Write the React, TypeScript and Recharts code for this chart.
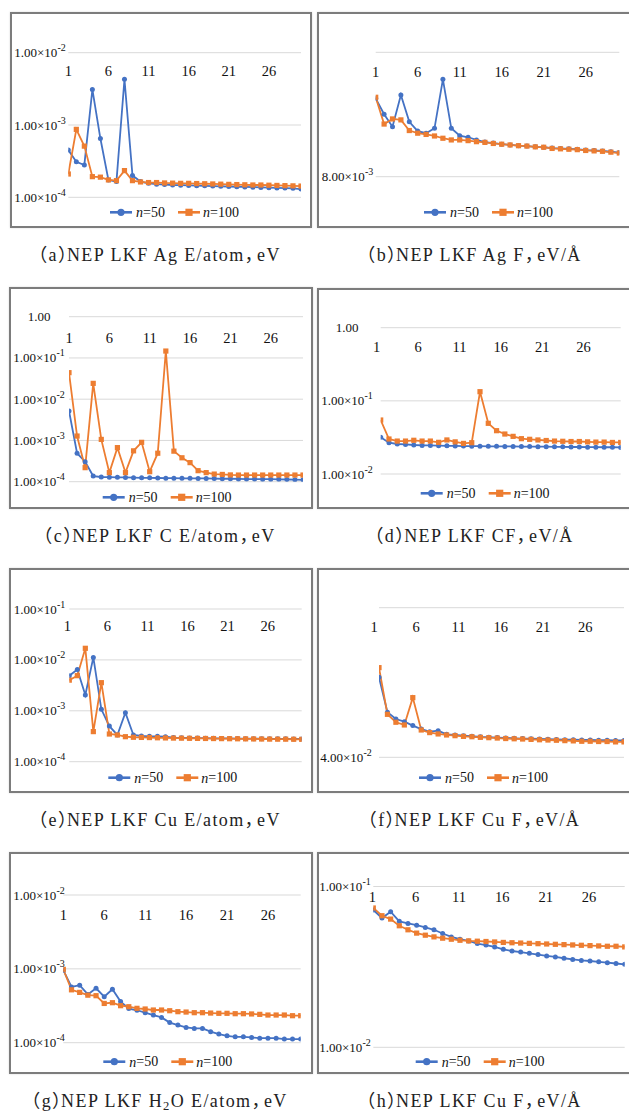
import React from 'react';
import { LineChart, Line, XAxis, YAxis, CartesianGrid } from 'recharts';

// ---------- data ----------
const steps = [1, 2, 3, 4, 5, 6, 7, 8, 9, 10, 11, 12, 13, 14, 15, 16, 17, 18, 19, 20, 21, 22, 23, 24, 25, 26, 27, 28, 29, 30];
const xTickValues = [1, 6, 11, 16, 21, 26];
const seriesLabels = ['50', '100'];

// (a) Ag E/atom
const agE50 = [4.5e-4, 3.1e-4, 2.8e-4, 3.1e-3, 6.5e-4, 1.74e-4, 1.65e-4, 4.3e-3, 2.0e-4, 1.65e-4, 1.56e-4, 1.52e-4, 1.5e-4, 1.48e-4, 1.47e-4, 1.46e-4, 1.45e-4, 1.44e-4, 1.43e-4, 1.42e-4, 1.41e-4, 1.4e-4, 1.39e-4, 1.38e-4, 1.37e-4, 1.36e-4, 1.35e-4, 1.34e-4, 1.33e-4, 1.3e-4];
const agE100 = [2.1e-4, 8.7e-4, 5.1e-4, 1.93e-4, 1.9e-4, 1.74e-4, 1.7e-4, 2.34e-4, 1.7e-4, 1.63e-4, 1.6e-4, 1.6e-4, 1.58e-4, 1.57e-4, 1.56e-4, 1.56e-4, 1.55e-4, 1.54e-4, 1.53e-4, 1.52e-4, 1.51e-4, 1.5e-4, 1.49e-4, 1.48e-4, 1.48e-4, 1.47e-4, 1.46e-4, 1.45e-4, 1.44e-4, 1.43e-4];
// (b) Ag F
const agF50 = [0.0341, 0.0254, 0.0202, 0.0363, 0.0221, 0.0186, 0.0179, 0.0196, 0.0485, 0.0196, 0.0171, 0.0166, 0.0158, 0.0152, 0.0149, 0.0146, 0.0144, 0.0142, 0.0141, 0.0139, 0.0138, 0.0136, 0.0135, 0.0134, 0.0133, 0.0131, 0.013, 0.0129, 0.0127, 0.0125];
const agF100 = [0.0348, 0.0212, 0.0233, 0.0229, 0.0188, 0.0179, 0.0175, 0.017, 0.0163, 0.0158, 0.0158, 0.0156, 0.0153, 0.0151, 0.0148, 0.0146, 0.0144, 0.0142, 0.0141, 0.0139, 0.0138, 0.0135, 0.0134, 0.0133, 0.0132, 0.013, 0.0129, 0.0128, 0.0126, 0.0124];
// (c) C E/atom
const cE50 = [5.2e-3, 4.9e-4, 3.05e-4, 1.37e-4, 1.3e-4, 1.29e-4, 1.28e-4, 1.27e-4, 1.25e-4, 1.24e-4, 1.24e-4, 1.23e-4, 1.22e-4, 1.22e-4, 1.21e-4, 1.21e-4, 1.2e-4, 1.2e-4, 1.19e-4, 1.18e-4, 1.18e-4, 1.17e-4, 1.16e-4, 1.16e-4, 1.15e-4, 1.15e-4, 1.14e-4, 1.13e-4, 1.12e-4, 1.11e-4];
const cE100 = [4.4e-2, 1.28e-3, 2.19e-4, 2.42e-2, 1.06e-3, 1.66e-4, 6.7e-4, 1.66e-4, 5.6e-4, 9.0e-4, 1.75e-4, 4.9e-4, 0.147, 5.5e-4, 3.8e-4, 2.9e-4, 1.85e-4, 1.66e-4, 1.53e-4, 1.5e-4, 1.46e-4, 1.45e-4, 1.45e-4, 1.45e-4, 1.45e-4, 1.45e-4, 1.45e-4, 1.45e-4, 1.45e-4, 1.45e-4];
// (d) C F
const cF50 = [0.0317, 0.0268, 0.0257, 0.0254, 0.0249, 0.0246, 0.0246, 0.0244, 0.0243, 0.0242, 0.0241, 0.024, 0.024, 0.0239, 0.0239, 0.0238, 0.0238, 0.0237, 0.0237, 0.0236, 0.0236, 0.0235, 0.0235, 0.0234, 0.0234, 0.0233, 0.0233, 0.0232, 0.0232, 0.0231];
const cF100 = [0.0547, 0.0301, 0.0282, 0.0282, 0.0289, 0.0282, 0.0282, 0.0271, 0.0292, 0.0275, 0.0262, 0.0268, 0.1334, 0.0493, 0.0391, 0.0352, 0.0327, 0.0304, 0.0298, 0.0292, 0.0287, 0.0282, 0.028, 0.0278, 0.0278, 0.0275, 0.0273, 0.0273, 0.027, 0.027];
// (e) Cu E/atom
const cuE50 = [4.9e-3, 6.5e-3, 2.04e-3, 1.12e-2, 1.07e-3, 5.0e-4, 3.35e-4, 9.2e-4, 3.35e-4, 3.2e-4, 3.15e-4, 3.15e-4, 3.1e-4, 2.98e-4, 2.95e-4, 2.93e-4, 2.91e-4, 2.9e-4, 2.88e-4, 2.87e-4, 2.86e-4, 2.85e-4, 2.84e-4, 2.83e-4, 2.83e-4, 2.82e-4, 2.81e-4, 2.81e-4, 2.8e-4, 2.8e-4];
const cuE100 = [4.0e-3, 4.9e-3, 1.69e-2, 3.9e-4, 3.57e-3, 3.5e-4, 3.35e-4, 3.1e-4, 3.02e-4, 3.0e-4, 2.98e-4, 2.95e-4, 2.93e-4, 2.91e-4, 2.9e-4, 2.88e-4, 2.87e-4, 2.86e-4, 2.85e-4, 2.84e-4, 2.83e-4, 2.82e-4, 2.81e-4, 2.8e-4, 2.79e-4, 2.78e-4, 2.77e-4, 2.77e-4, 2.76e-4, 2.75e-4];
// (f) Cu F
const cuF50 = [0.137, 0.08, 0.0721, 0.0692, 0.0652, 0.0618, 0.0593, 0.0603, 0.057, 0.0564, 0.0558, 0.0553, 0.0548, 0.0545, 0.0542, 0.0539, 0.0536, 0.0534, 0.0532, 0.053, 0.0528, 0.0527, 0.0525, 0.0524, 0.0523, 0.0522, 0.0521, 0.052, 0.0519, 0.0518];
const cuF100 = [0.159, 0.0775, 0.0686, 0.0658, 0.1002, 0.0609, 0.0585, 0.0573, 0.0564, 0.0558, 0.0552, 0.0549, 0.0544, 0.0541, 0.0538, 0.0534, 0.0532, 0.053, 0.0527, 0.0524, 0.0522, 0.052, 0.0517, 0.0515, 0.0512, 0.0512, 0.051, 0.051, 0.0507, 0.0507];
// (g) H2O E/atom
const h2oE50 = [9.6e-4, 5.7e-4, 6.0e-4, 4.5e-4, 5.45e-4, 4.2e-4, 5.3e-4, 3.6e-4, 2.9e-4, 2.75e-4, 2.55e-4, 2.37e-4, 2.2e-4, 1.87e-4, 1.73e-4, 1.61e-4, 1.56e-4, 1.56e-4, 1.41e-4, 1.31e-4, 1.24e-4, 1.2e-4, 1.2e-4, 1.18e-4, 1.15e-4, 1.15e-4, 1.15e-4, 1.12e-4, 1.12e-4, 1.12e-4];
const h2oE100 = [9.85e-4, 5.2e-4, 4.8e-4, 4.4e-4, 4.33e-4, 3.4e-4, 3.48e-4, 3.17e-4, 3.07e-4, 2.92e-4, 2.86e-4, 2.77e-4, 2.77e-4, 2.71e-4, 2.63e-4, 2.6e-4, 2.55e-4, 2.55e-4, 2.52e-4, 2.5e-4, 2.5e-4, 2.47e-4, 2.47e-4, 2.45e-4, 2.42e-4, 2.37e-4, 2.37e-4, 2.37e-4, 2.32e-4, 2.32e-4];
// (h) Cu F (second)
const cuF2_50 = [0.0714, 0.0637, 0.0697, 0.0607, 0.0589, 0.0575, 0.0556, 0.0538, 0.051, 0.0486, 0.047, 0.0459, 0.0442, 0.0432, 0.0421, 0.0407, 0.0397, 0.0391, 0.0384, 0.0377, 0.037, 0.0365, 0.0358, 0.0352, 0.0347, 0.0344, 0.034, 0.0336, 0.0332, 0.0328];
const cuF2_100 = [0.0735, 0.0658, 0.0627, 0.057, 0.0538, 0.0513, 0.0498, 0.0486, 0.0477, 0.047, 0.0463, 0.0459, 0.0457, 0.0455, 0.0452, 0.0449, 0.0447, 0.0445, 0.0443, 0.0441, 0.0439, 0.0437, 0.0435, 0.0433, 0.0431, 0.0429, 0.0427, 0.0425, 0.0425, 0.0421];

// ---------- styles ----------
const BLUE = '#4472C4';
const ORANGE = '#ED7D31';
const GRID = '#d9d9d9';
const SERIF = "'Liberation Serif', 'Times New Roman', serif";
const CAPTION_FONT = "'Liberation Serif', 'Noto Sans CJK SC', serif";

type Panel = {
  id: string;
  tag: string;
  body: React.ReactNode;
  unit: string;
  box: [number, number, number, number];
  x1: number; x30: number; yTop: number; yBot: number;
  domain: [number, number];
  yTicks: number[];
  yLabeled: number[];
  labelCx: number;
  xLabelY: number;
  tickDx: number;
  legend: [number, number];
  s50: number[]; s100: number[];
};

const panels: Panel[] = [
  { id: 'a', tag: 'a', body: 'NEP LKF Ag E/atom', unit: 'eV', box: [10, 12, 312, 228], x1: 68.3, x30: 301, yTop: 52.7, yBot: 197.3,
    domain: [1e-4, 1e-2], yTicks: [1e-4, 1e-3, 1e-2], yLabeled: [1e-4, 1e-3, 1e-2], labelCx: 40, xLabelY: 71, tickDx: 0,
    legend: [110, 212.3], s50: agE50, s100: agE100 },
  { id: 'b', tag: 'b', body: 'NEP LKF Ag F', unit: 'eV/Å', box: [317, 12, 634, 228], x1: 375.7, x30: 619.3, yTop: 52.3, yBot: 176.7,
    domain: [8e-3, 8e-2], yTicks: [8e-3, 8e-2], yLabeled: [8e-3], labelCx: 347.5, xLabelY: 72.3, tickDx: 0,
    legend: [424, 212.3], s50: agF50, s100: agF100 },
  { id: 'c', tag: 'c', body: 'NEP LKF C E/atom', unit: 'eV', box: [9, 287, 313, 509], x1: 69, x30: 303, yTop: 316.7, yBot: 481.7,
    domain: [1e-4, 1], yTicks: [1e-4, 1e-3, 1e-2, 1e-1, 1], yLabeled: [1e-4, 1e-3, 1e-2, 1e-1, 1], labelCx: 39, xLabelY: 338.3, tickDx: 0,
    legend: [102.7, 497.3], s50: cE50, s100: cE100 },
  { id: 'd', tag: 'd', body: 'NEP LKF CF', unit: 'eV/Å', box: [317, 288, 634, 509], x1: 380.7, x30: 620.7, yTop: 327.7, yBot: 474,
    domain: [1e-2, 1], yTicks: [1e-2, 1e-1, 1], yLabeled: [1e-2, 1e-1, 1], labelCx: 347, xLabelY: 347.3, tickDx: -4,
    legend: [420.7, 493.3], s50: cF50, s100: cF100 },
  { id: 'e', tag: 'e', body: 'NEP LKF Cu E/atom', unit: 'eV', box: [9, 568, 313, 793], x1: 69.3, x30: 301.7, yTop: 609, yBot: 761.7,
    domain: [1e-4, 1e-1], yTicks: [1e-4, 1e-3, 1e-2, 1e-1], yLabeled: [1e-4, 1e-3, 1e-2, 1e-1], labelCx: 39.5, xLabelY: 626, tickDx: -2,
    legend: [108.3, 777.7], s50: cuE50, s100: cuE100 },
  { id: 'f', tag: 'f', body: 'NEP LKF Cu F', unit: 'eV/Å', box: [317, 568, 634, 793], x1: 379, x30: 624, yTop: 607.7, yBot: 757.3,
    domain: [4e-2, 4e-1], yTicks: [4e-2, 4e-1], yLabeled: [4e-2], labelCx: 346, xLabelY: 627.3, tickDx: -5,
    legend: [419, 777.7], s50: cuF50, s100: cuF100 },
  { id: 'g', tag: 'g', body: <>NEP LKF H<sub style={{ fontSize: '0.7em', verticalAlign: '-0.25em' }}>2</sub>O E/atom</>, unit: 'eV', box: [9, 852, 313, 1074], x1: 63.3, x30: 300.7, yTop: 895, yBot: 1042.7,
    domain: [1e-4, 1e-2], yTicks: [1e-4, 1e-3, 1e-2], yLabeled: [1e-4, 1e-3, 1e-2], labelCx: 39, xLabelY: 915, tickDx: 0,
    legend: [103.3, 1061.7], s50: h2oE50, s100: h2oE100 },
  { id: 'h', tag: 'h', body: 'NEP LKF Cu F', unit: 'eV/Å', box: [317, 852, 634, 1074], x1: 373.3, x30: 624.7, yTop: 886.5, yBot: 1047.3,
    domain: [1e-2, 1e-1], yTicks: [1e-2, 1e-1], yLabeled: [1e-2, 1e-1], labelCx: 345, xLabelY: 896.7, tickDx: -1,
    legend: [415.7, 1061.7], s50: cuF2_50, s100: cuF2_100 },
];

function rowsFor(a: number[], b: number[]) {
  return steps.map((s, i) => ({ x: s, n50: a[i], n100: b[i] }));
}

function splitSci(v: number) {
  const e = Math.floor(Math.log10(v) + 1e-9);
  const m = v / Math.pow(10, e);
  return { m: m.toFixed(2), e };
}

function SquareDot(props: any) {
  const { cx, cy, index } = props;
  if (cx == null || cy == null) return <g key={`sq-${index}`} />;
  return <rect key={`sq-${index}`} x={cx - 2.6} y={cy - 2.6} width={5.2} height={5.2} fill={ORANGE} />;
}

function CircleDot(props: any) {
  const { cx, cy, index } = props;
  if (cx == null || cy == null) return <g key={`ci-${index}`} />;
  return <circle key={`ci-${index}`} cx={cx} cy={cy} r={2.5} fill={BLUE} />;
}

function PanelChart({ p }: { p: Panel }) {
  const [l, t, r, b] = p.box;
  const W = r - l;
  const H = b - t;
  // axes take 1px each (a zero-sized axis is not drawn)
  const margin = { left: p.x1 - l - 1, right: r - p.x30, top: p.yTop - t - 1, bottom: b - p.yBot };
  const data = rowsFor(p.s50, p.s100);

  const xTick = (props: any) => {
    const { x, payload } = props;
    return (
      <text x={x + p.tickDx} y={p.xLabelY - t} textAnchor="middle" dominantBaseline="central"
        fontFamily={SERIF} fontSize={14.5} fill="#111">{payload.value}</text>
    );
  };

  const yTick = (props: any) => {
    const { y, payload } = props;
    const v = payload.value as number;
    const labeled = p.yLabeled.some((u) => Math.abs(u - v) / u < 1e-6);
    if (!labeled) return <g />;
    const { m, e } = splitSci(v);
    return (
      <text x={p.labelCx - l} y={y} textAnchor="middle" dominantBaseline="central" fontFamily={SERIF} fontSize={13} fill="#111">
        {e === 0 ? m : (
          <>
            {m}×10<tspan dy={-5.5} fontSize={10}>{`-${-e}`}</tspan>
          </>
        )}
      </text>
    );
  };

  return (
    <div style={{ position: 'absolute', left: l, top: t, width: W, height: H }}>
      <LineChart width={W} height={H} data={data} margin={margin} style={{ overflow: 'visible' }}>
        <CartesianGrid vertical={false} stroke={GRID} strokeWidth={1} />
        <XAxis dataKey="x" type="number" domain={[1, 30]} ticks={xTickValues} interval={0} orientation="top"
          height={1} axisLine={false} tickLine={false} tick={xTick} allowDataOverflow />
        <YAxis type="number" scale="log" domain={p.domain} ticks={p.yTicks} interval={0} width={1}
          axisLine={false} tickLine={false} tick={yTick} allowDataOverflow />
        <Line type="linear" dataKey="n50" name={seriesLabels[0]} stroke={BLUE} strokeWidth={1.8}
          dot={CircleDot} activeDot={false} isAnimationActive={false} />
        <Line type="linear" dataKey="n100" name={seriesLabels[1]} stroke={ORANGE} strokeWidth={1.8}
          dot={SquareDot} activeDot={false} isAnimationActive={false} />
      </LineChart>
    </div>
  );
}

function LegendSvg({ p }: { p: Panel }) {
  const [lx, ly] = p.legend;
  return (
    <g>
      <line x1={lx} y1={ly} x2={lx + 22} y2={ly} stroke={BLUE} strokeWidth={2.6} />
      <circle cx={lx + 11} cy={ly} r={3.6} fill={BLUE} />
      <text x={lx + 26} y={ly} dominantBaseline="central" fontFamily={SERIF} fontSize={14} fill="#111">
        <tspan fontStyle="italic">n</tspan>={seriesLabels[0]}
      </text>
      <line x1={lx + 68} y1={ly} x2={lx + 90} y2={ly} stroke={ORANGE} strokeWidth={2.6} />
      <rect x={lx + 79 - 3.6} y={ly - 3.6} width={7.2} height={7.2} fill={ORANGE} />
      <text x={lx + 93} y={ly} dominantBaseline="central" fontFamily={SERIF} fontSize={14} fill="#111">
        <tspan fontStyle="italic">n</tspan>={seriesLabels[1]}
      </text>
    </g>
  );
}

// Full-width closing bracket / comma: their blank right half is squeezed out via letter-spacing
function Caption({ p }: { p: Panel }) {
  return (
    <>
      <span>（</span>
      <span>{p.tag}</span>
      <span style={{ letterSpacing: '-0.5em' }}>）</span>
      <span>{p.body}</span>
      <span style={{ letterSpacing: '-0.42em' }}>，</span>
      <span style={{ marginLeft: '2px' }}>{p.unit}</span>
    </>
  );
}

export default function App() {
  return (
    <div style={{ position: 'absolute', left: 0, top: 0, width: 629, height: 1115, overflow: 'hidden', background: '#fff' }}>
      {panels.map((p) => {
        const [l, t, r, b] = p.box;
        return (
          <React.Fragment key={p.id}>
            <div style={{ position: 'absolute', left: l, top: t, width: r - l, height: b - t, boxSizing: 'border-box',
              border: '2px solid #7c7c7c', boxShadow: '0 0 2px rgba(0,0,0,0.15)' }} />
            <PanelChart p={p} />
            <div style={{ position: 'absolute', left: l - 6, top: b + 16, width: r - l, textAlign: 'center',
              fontFamily: CAPTION_FONT, fontSize: 18, lineHeight: '22px', letterSpacing: '1.4px', color: '#222', whiteSpace: 'nowrap' }}>
              <Caption p={p} />
            </div>
          </React.Fragment>
        );
      })}
      <svg width={629} height={1115} style={{ position: 'absolute', left: 0, top: 0, pointerEvents: 'none' }}>
        {panels.map((p) => <LegendSvg key={p.id} p={p} />)}
      </svg>
    </div>
  );
}
